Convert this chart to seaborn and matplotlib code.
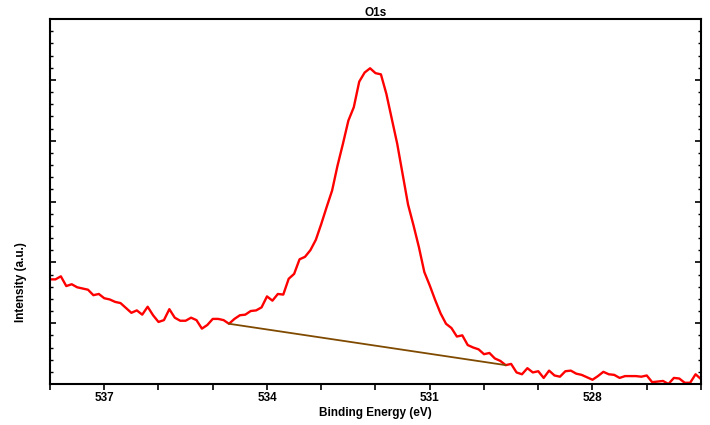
import numpy as np
import pandas as pd
import matplotlib
matplotlib.use('Agg')
import matplotlib.pyplot as plt
import seaborn as sns
from matplotlib.ticker import MultipleLocator, NullFormatter

# O1s spectrum, binding energy (eV) and intensity (a.u.)
binding_energy = [
    538.0, 537.9, 537.8, 537.7, 537.6, 537.5, 537.4, 537.3, 537.2, 537.1,
    537.0, 536.9, 536.8, 536.7, 536.6, 536.5, 536.4, 536.3, 536.2, 536.1,
    536.0, 535.9, 535.8, 535.7, 535.6, 535.5, 535.4, 535.3, 535.2, 535.1,
    535.0, 534.9, 534.8, 534.7, 534.6, 534.5, 534.4, 534.3, 534.2, 534.1,
    534.0, 533.9, 533.8, 533.7, 533.6, 533.5, 533.4, 533.3, 533.2, 533.1,
    533.0, 532.9, 532.8, 532.7, 532.6, 532.5, 532.4, 532.3, 532.2, 532.1,
    532.0, 531.9, 531.8, 531.7, 531.6, 531.5, 531.4, 531.3, 531.2, 531.1,
    531.0, 530.9, 530.8, 530.7, 530.6, 530.5, 530.4, 530.3, 530.2, 530.1,
    530.0, 529.9, 529.8, 529.7, 529.6, 529.5, 529.4, 529.3, 529.2, 529.1,
    529.0, 528.9, 528.8, 528.7, 528.6, 528.5, 528.4, 528.3, 528.2, 528.1,
    528.0, 527.9, 527.8, 527.7, 527.6, 527.5, 527.4, 527.3, 527.2, 527.1,
    527.0, 526.9, 526.8, 526.7, 526.6, 526.5, 526.4, 526.3, 526.2, 526.1,
    526.0,
]
intensity = [
    1.72, 1.72, 1.77, 1.61, 1.64, 1.59, 1.57, 1.55, 1.46, 1.48,
    1.41, 1.39, 1.35, 1.33, 1.25, 1.17, 1.21, 1.14, 1.27, 1.13,
    1.02, 1.05, 1.23, 1.09, 1.04, 1.04, 1.09, 1.05, 0.91, 0.97,
    1.07, 1.07, 1.05, 0.99, 1.07, 1.13, 1.14, 1.20, 1.21, 1.26,
    1.44, 1.37, 1.48, 1.47, 1.73, 1.81, 2.05, 2.09, 2.20, 2.37,
    2.63, 2.91, 3.18, 3.59, 3.95, 4.33, 4.55, 4.97, 5.12, 5.19,
    5.11, 5.09, 4.77, 4.36, 3.95, 3.45, 2.95, 2.61, 2.25, 1.84,
    1.62, 1.38, 1.16, 0.99, 0.92, 0.78, 0.80, 0.64, 0.60, 0.57,
    0.49, 0.51, 0.42, 0.38, 0.31, 0.33, 0.19, 0.16, 0.26, 0.19,
    0.21, 0.10, 0.22, 0.14, 0.12, 0.21, 0.22, 0.17, 0.15, 0.11,
    0.07, 0.13, 0.20, 0.16, 0.15, 0.10, 0.13, 0.13, 0.13, 0.12,
    0.14, 0.03, 0.04, 0.05, 0.00, 0.10, 0.09, 0.02, 0.02, 0.16,
    0.08,
]

# background line endpoints
bg_energy = [534.7, 529.6]
bg_intensity = [0.99, 0.31]

df = pd.DataFrame({'be': binding_energy, 'counts': intensity})
bg = pd.DataFrame({'be': bg_energy, 'counts': bg_intensity})

sns.set_style('ticks')
plt.rcParams['font.family'] = ['Liberation Sans', 'DejaVu Sans']
plt.rcParams['text.color'] = 'black'
plt.rcParams['axes.labelcolor'] = 'black'
plt.rcParams['xtick.color'] = 'black'
plt.rcParams['ytick.color'] = 'black'

fig = plt.figure(figsize=(7.1, 4.25), dpi=100)
ax = fig.add_axes([50 / 710, 41 / 425, 651 / 710, 365 / 425])

sns.lineplot(data=df, x='be', y='counts', ax=ax, color='#ff0000', linewidth=1.7, sort=False)
sns.lineplot(data=bg, x='be', y='counts', ax=ax, color='#7f4a00', linewidth=1.3, sort=False)

ax.set_xlim(538, 526)
ax.set_ylim(0, 6)

ax.xaxis.set_major_locator(MultipleLocator(3))
ax.xaxis.set_minor_locator(MultipleLocator(1))
ax.yaxis.set_major_locator(MultipleLocator(1))
ax.yaxis.set_minor_locator(MultipleLocator(0.2))
ax.yaxis.set_major_formatter(NullFormatter())

ax.tick_params(axis='x', which='both', direction='out', length=4, width=1.2,
               bottom=True, top=False, labelsize=8.5, pad=2, colors='black')
ax.tick_params(axis='y', which='major', direction='in', length=4, width=1.2,
               left=True, right=True, colors='black')
ax.tick_params(axis='y', which='minor', direction='in', length=2.2, width=1.0,
               left=True, right=True, colors='black')
for lab in ax.get_xticklabels():
    lab.set_fontweight('bold')

for side in ['top', 'right', 'bottom', 'left']:
    ax.spines[side].set_visible(True)
    ax.spines[side].set_color('black')
    ax.spines[side].set_linewidth(1.5)

ax.set_title('O1s', fontsize=8.5, fontweight='bold', pad=2, color='black')
ax.set_xlabel('Binding Energy (eV)', fontsize=8.5, fontweight='bold', labelpad=2, color='black')
ax.set_ylabel('Intensity (a.u.)', fontsize=8.5, fontweight='bold', color='black')
ax.yaxis.set_label_coords(-0.036, 0.28)

fig.savefig('out.png', dpi=100)
